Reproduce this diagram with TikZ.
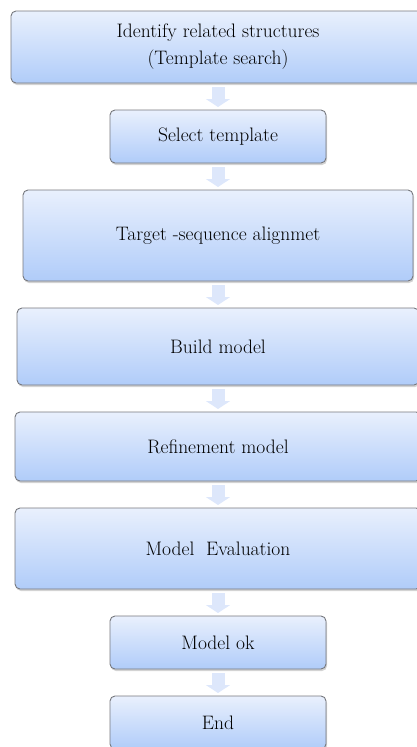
\documentclass[tikz,border=0pt]{standalone}
\usetikzlibrary{chains,positioning,shadows,arrows.meta}

\definecolor{boxtop}{RGB}{233,240,253}
\definecolor{boxmid}{RGB}{216,229,251}
\definecolor{boxbot}{RGB}{176,204,249}
\definecolor{boxline}{RGB}{118,120,126}
\definecolor{flowfill}{RGB}{221,231,251}

\begin{document}
\begin{tikzpicture}[x=1pt,y=1pt,
    box/.style={rectangle, rounded corners=5pt, draw=boxline, line width=0.9pt,
      top color=boxtop, middle color=boxmid, bottom color=boxbot,
      inner sep=0pt, outer sep=0pt, align=center, font=\fontsize{19.5}{27}\selectfont,
      drop shadow={shadow xshift=1pt, shadow yshift=-2pt, opacity=0.35}},
    flow/.style={line width=13pt, draw=flowfill,
      -{Triangle[width=24pt,length=8pt]}, shorten <=4pt, shorten >=3pt},
    start chain=going below, node distance=27pt]
    \useasboundingbox (0,0) rectangle (417,-747);
    \node[box,on chain,minimum width=414pt,minimum height=72pt] (search) at (218,-47)
      {Identify related structures\\(Template search)};
    \node[box,on chain,minimum width=216pt,minimum height=53pt] (select) {Select template};
    \node[box,on chain,minimum width=390pt,minimum height=91pt] (align) {Target -sequence alignmet};
    \node[box,on chain,minimum width=402pt,minimum height=77pt] (build) {Build model};
    \node[box,on chain,minimum width=406pt,minimum height=69pt] (refine) {Refinement model};
    \node[box,on chain,minimum width=406pt,minimum height=81pt] (eval) {Model\ \ Evaluation};
    \node[box,on chain,minimum width=216pt,minimum height=53pt] (ok) {Model ok};
    \node[box,on chain,minimum width=216pt,minimum height=53pt] (end) {End};
    \draw[flow] (search) -- (select);
    \draw[flow] (select) -- (align);
    \draw[flow] (align) -- (build);
    \draw[flow] (build) -- (refine);
    \draw[flow] (refine) -- (eval);
    \draw[flow] (eval) -- (ok);
    \draw[flow] (ok) -- (end);
\end{tikzpicture}
\end{document}
